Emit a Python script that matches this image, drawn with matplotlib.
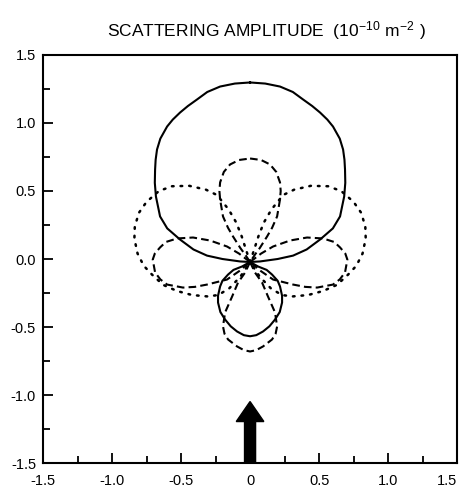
import matplotlib
matplotlib.use("Agg")
import matplotlib.pyplot as plt
import numpy as np

plt.rcParams['font.family'] = ['Liberation Sans', 'DejaVu Sans']
plt.rcParams['lines.scale_dashes'] = False

# --- data (right halves; curves are mirror-symmetric about x=0) ---
# solid curve, upper loop: top -> origin
solid_up_x = [0.000, 0.110, 0.217, 0.310, 0.384, 0.450, 0.507, 0.560, 0.601, 0.650, 0.674,
              0.684, 0.688, 0.690, 0.682, 0.652, 0.600, 0.507, 0.410, 0.312, 0.200, 0.072, 0.000]
solid_up_y = [1.298, 1.290, 1.268, 1.228, 1.173, 1.125, 1.077, 1.025, 0.974, 0.885, 0.805,
              0.730, 0.658, 0.560, 0.460, 0.313, 0.225, 0.143, 0.070, 0.025, 0.000, -0.018, -0.022]
# solid curve, lower loop: origin -> bottom
solid_lo_x = [0.000, 0.058, 0.120, 0.159, 0.200, 0.217, 0.232, 0.232, 0.215, 0.181, 0.140,
              0.094, 0.045, 0.000]
solid_lo_y = [-0.022, -0.055, -0.080, -0.114, -0.160, -0.202, -0.270, -0.320, -0.390, -0.445,
              -0.495, -0.533, -0.560, -0.568]

# dashed curve: upper lobe (top -> origin)
dash_up_x = [0.000, 0.080, 0.145, 0.190, 0.217, 0.222, 0.217, 0.196, 0.160, 0.123, 0.070, 0.036, 0.000]
dash_up_y = [0.739, 0.728, 0.695, 0.640, 0.563, 0.500, 0.438, 0.313, 0.230, 0.165, 0.080, 0.033, -0.022]
# dashed curve: lower lobe (origin -> bottom)
dash_lo_x = [0.000, 0.036, 0.087, 0.130, 0.181, 0.196, 0.185, 0.159, 0.094, 0.045, 0.000]
dash_lo_y = [-0.022, -0.100, -0.173, -0.276, -0.393, -0.496, -0.550, -0.592, -0.643, -0.670, -0.680]
# dashed curve: side lobe (origin -> round the lobe -> origin)
dash_side_x = [0.000, 0.080, 0.167, 0.290, 0.413, 0.529, 0.610, 0.652, 0.690, 0.705, 0.695,
               0.688, 0.650, 0.601, 0.486, 0.400, 0.312, 0.167, 0.080, 0.000]
dash_side_y = [-0.022, 0.040, 0.092, 0.136, 0.158, 0.151, 0.125, 0.085, 0.040, -0.004, -0.060,
               -0.099, -0.150, -0.188, -0.210, -0.205, -0.188, -0.151, -0.090, -0.022]

# dotted curve: side lobe (origin -> round the lobe -> origin)
dot_side_x = [0.000, 0.030, 0.060, 0.100, 0.155, 0.239, 0.320, 0.440, 0.565, 0.660, 0.750,
              0.805, 0.835, 0.838, 0.815, 0.770, 0.710, 0.630, 0.530, 0.420, 0.310, 0.230,
              0.150, 0.070, 0.000]
dot_side_y = [-0.022, 0.070, 0.165, 0.268, 0.364, 0.470, 0.510, 0.538, 0.535, 0.500, 0.420,
              0.340, 0.239, 0.150, 0.040, -0.050, -0.115, -0.190, -0.235, -0.265, -0.275,
              -0.265, -0.215, -0.130, -0.022]

# incident beam arrow
beam_x = 0.0
beam_base = -1.5
beam_tip = -1.048

ticks_major = [-1.5, -1.0, -0.5, 0.0, 0.5, 1.0, 1.5]
xtick_labels = ["-1.5", "-1.0", "-0.5", "0", "0.5", "1.0", "1.5"]
ytick_labels = ["-1.5", "-1.0", "-0.5", "0.0", "0.5", "1.0", "1.5"]
ticks_minor = [-1.25, -0.75, -0.25, 0.25, 0.75, 1.25]


def mirrored(x, y):
    # right half + reflected left half, as one closed path
    x = np.asarray(x)
    y = np.asarray(y)
    return np.concatenate([x, -x[::-1]]), np.concatenate([y, y[::-1]])


fig = plt.figure(figsize=(4.65, 4.91), dpi=100)
ax = fig.add_axes([0.0925, 0.057, 0.8905, 0.831])

line_kw = dict(color='black', linewidth=1.5)
dashed = (0, (5.5, 3.0))
dotted = (0, (1.2, 5.0))

# solid
for xs, ys in [(solid_up_x, solid_up_y), (solid_lo_x, solid_lo_y)]:
    mx, my = mirrored(xs, ys)
    ax.plot(mx, my, linestyle='-', **line_kw)

# dashed
for xs, ys in [(dash_up_x, dash_up_y), (dash_lo_x, dash_lo_y)]:
    mx, my = mirrored(xs, ys)
    ax.plot(mx, my, linestyle=dashed, **line_kw)
ax.plot(dash_side_x, dash_side_y, linestyle=dashed, **line_kw)
ax.plot(-np.asarray(dash_side_x), dash_side_y, linestyle=dashed, **line_kw)

# dotted
ax.plot(dot_side_x, dot_side_y, linestyle=dotted, dash_capstyle='round', color='black', linewidth=1.8)
ax.plot(-np.asarray(dot_side_x), dot_side_y, linestyle=dotted, dash_capstyle='round', color='black', linewidth=1.8)

# beam arrow
ax.arrow(beam_x, beam_base, 0, beam_tip - beam_base, width=0.08, head_width=0.2,
         head_length=0.147, length_includes_head=True, color='black', zorder=5)

ax.set_xlim(-1.5, 1.5)
ax.set_ylim(-1.5, 1.5)
ax.set_xticks(ticks_major)
ax.set_xticklabels(xtick_labels)
ax.set_yticks(ticks_major)
ax.set_yticklabels(ytick_labels)
ax.set_xticks(ticks_minor, minor=True)
ax.set_yticks(ticks_minor, minor=True)
ax.tick_params(which='both', direction='in', width=1.3, labelsize=10.5)
ax.tick_params(which='major', length=7)
ax.tick_params(which='minor', length=5)
ax.tick_params(axis='x', pad=8)
ax.tick_params(axis='y', pad=5)
for s in ax.spines.values():
    s.set_linewidth(1.5)
# last x label sits at the figure edge
ax.get_xticklabels()[-1].set_horizontalalignment('right')

fig.text(0.23, 0.925, r"SCATTERING AMPLITUDE  $\mathregular{(10^{-10}\ m^{-2}\ )}$",
         fontsize=12.5, ha='left', va='baseline')

fig.savefig("out.png", dpi=100)
